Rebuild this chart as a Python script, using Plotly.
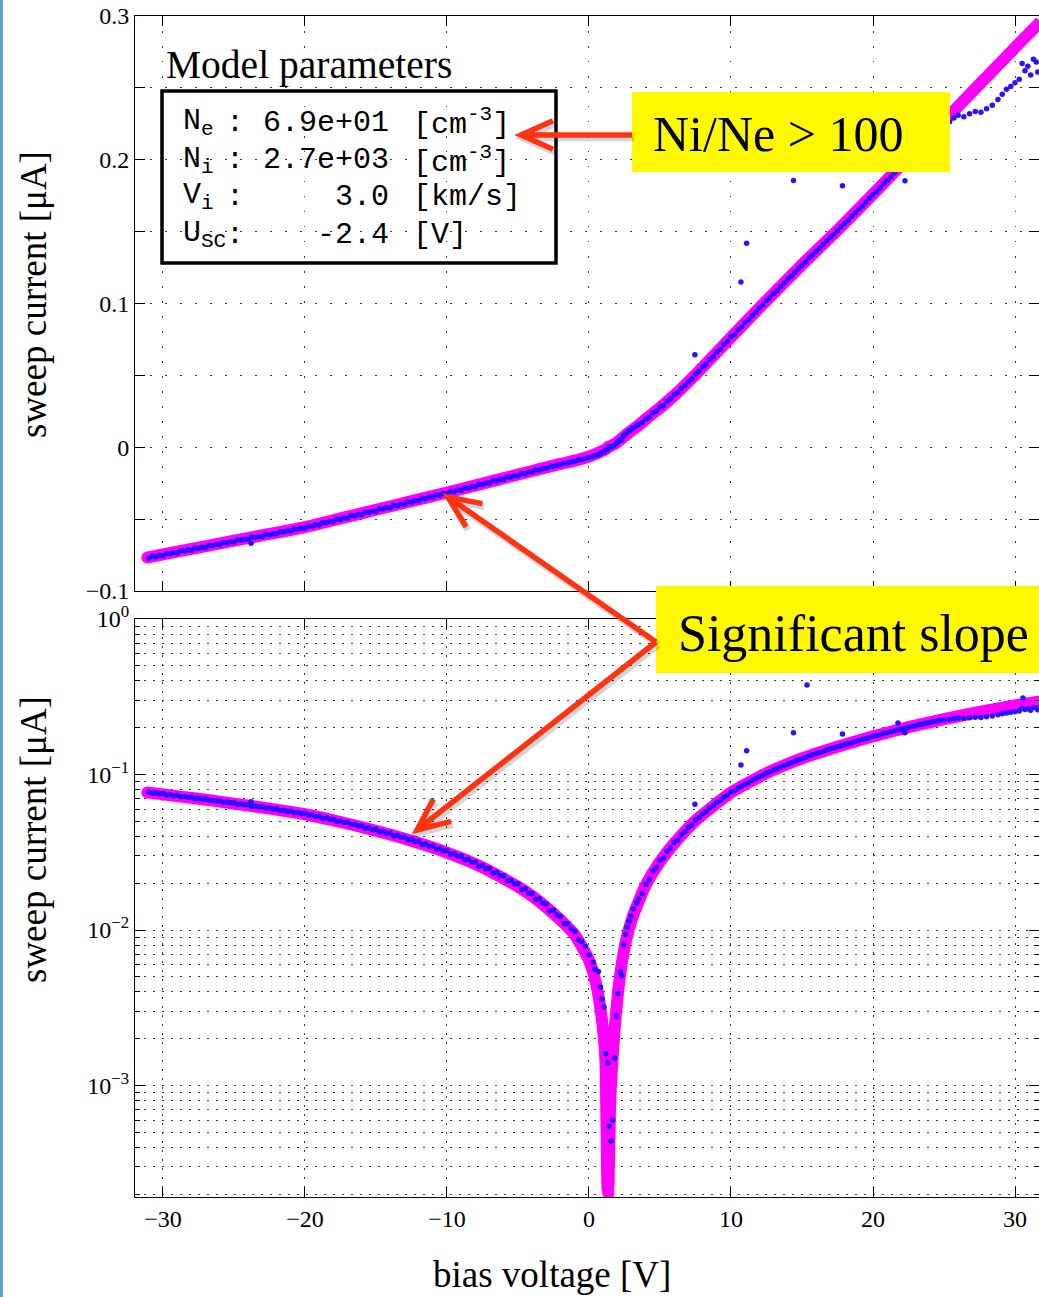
import math
import numpy as np
import plotly.graph_objects as go

# ---------------------------------------------------------------------------
# Fitted model of the probe sweep (bias voltage [V] -> current [uA])
# ---------------------------------------------------------------------------
V_MODEL = [-31.1, -30.0, -27.5, -25.0, -22.5, -20.0, -17.5, -15.0, -12.5, -10.0,
           -7.5, -5.0, -4.0, -3.0, -2.0, -1.0, 0.0, 0.5, 0.9, 1.15,
           1.3, 1.35, 1.5, 1.7, 1.9, 2.2, 2.6, 3.0, 3.5, 4.0,
           5.0, 6.0, 7.5, 10.0, 12.5, 15.0, 17.5, 20.0, 22.5, 25.0,
           27.5, 30.0, 31.8]
I_MODEL = [-0.0767, -0.0745, -0.0698, -0.0650, -0.0603, -0.0555, -0.0495, -0.0435, -0.0375, -0.0315,
           -0.0253, -0.0190, -0.0165, -0.0140, -0.0116, -0.0093, -0.0064, -0.0045, -0.0027, -0.0015,
           -0.00022, 0.00020, 0.0008, 0.0017, 0.0029, 0.0052, 0.0085, 0.0116, 0.0153, 0.0195,
           0.0275, 0.0360, 0.0505, 0.0765, 0.1020, 0.1270, 0.1510, 0.1760, 0.2015, 0.2270,
           0.2525, 0.2780, 0.2960]

# ---------------------------------------------------------------------------
# Measured sweep samples
# ---------------------------------------------------------------------------
# negative bias, first pass
V_NEG_A = [-31.0, -30.5, -30.0, -29.5, -29.0, -28.5, -28.0, -27.5, -27.0, -26.5,
           -26.0, -25.5, -25.0, -24.5, -24.0, -23.5, -23.0, -22.5, -22.0, -21.5,
           -21.0, -20.5, -20.0, -19.5, -19.0, -18.5, -18.0, -17.5, -17.0, -16.5,
           -16.0, -15.5, -15.0, -14.5, -14.0, -13.5, -13.0, -12.5, -12.0, -11.5,
           -11.0, -10.5, -10.0, -9.5, -9.0, -8.5, -8.0, -7.5, -7.0, -6.5,
           -6.0, -5.5, -5.0, -4.5, -4.0, -3.5, -3.0, -2.5, -2.0, -1.5,
           -1.0, -0.5, 0.0]
I_NEG_A = [-0.0772, -0.0764, -0.0754, -0.0741, -0.0735, -0.0722, -0.0716, -0.0704, -0.0697, -0.0684,
           -0.0678, -0.0665, -0.0659, -0.0645, -0.0640, -0.0628, -0.0621, -0.0608, -0.0602, -0.0589,
           -0.0583, -0.0570, -0.0564, -0.0549, -0.0540, -0.0525, -0.0516, -0.0502, -0.0493, -0.0478,
           -0.0469, -0.0454, -0.0445, -0.0430, -0.0421, -0.0407, -0.0396, -0.0383, -0.0372, -0.0358,
           -0.0348, -0.0334, -0.0324, -0.0310, -0.0299, -0.0285, -0.0274, -0.0260, -0.0249, -0.0235,
           -0.0223, -0.0209, -0.0198, -0.0184, -0.0172, -0.0159, -0.0147, -0.0134, -0.0122, -0.0110,
           -0.0098, -0.0084, -0.0069]

# negative bias, second pass
V_NEG_B = [-30.75, -30.25, -29.75, -29.25, -28.75, -28.25, -27.75, -27.25, -26.75, -26.25,
           -25.75, -25.25, -24.75, -24.25, -23.75, -23.25, -22.75, -22.25, -21.75, -21.25,
           -20.75, -20.25, -19.75, -19.25, -18.75, -18.25, -17.75, -17.25, -16.75, -16.25,
           -15.75, -15.25, -14.75, -14.25, -13.75, -13.25, -12.75, -12.25, -11.75, -11.25,
           -10.75, -10.25, -9.75, -9.25, -8.75, -8.25, -7.75, -7.25, -6.75, -6.25,
           -5.75, -5.25, -4.75, -4.25, -3.75, -3.25, -2.75, -2.25, -1.75, -1.25,
           -0.75, -0.25]
I_NEG_B = [-0.0757, -0.0751, -0.0739, -0.0733, -0.0719, -0.0713, -0.0700, -0.0695, -0.0682, -0.0676,
           -0.0663, -0.0657, -0.0644, -0.0639, -0.0625, -0.0620, -0.0606, -0.0601, -0.0587, -0.0581,
           -0.0568, -0.0561, -0.0547, -0.0539, -0.0523, -0.0515, -0.0499, -0.0491, -0.0475, -0.0467,
           -0.0451, -0.0443, -0.0427, -0.0419, -0.0403, -0.0395, -0.0379, -0.0371, -0.0355, -0.0346,
           -0.0331, -0.0322, -0.0307, -0.0298, -0.0282, -0.0273, -0.0257, -0.0248, -0.0232, -0.0223,
           -0.0207, -0.0198, -0.0182, -0.0173, -0.0157, -0.0149, -0.0133, -0.0125, -0.0110, -0.0102,
           -0.0087, -0.0078]

# samples around the zero crossing
V_KNEE = [0.30, 0.42, 0.66, 0.80, 0.92, 1.06, 1.18, 1.32, 1.41, 1.55,
          1.67, 1.81, 1.93, 2.04, 2.20, 2.30, 2.44, 2.56, 2.68, 2.82,
          2.96, 3.12, 3.36]
I_KNEE = [-0.0062, -0.0056, -0.0054, -0.0043, -0.0036, -0.0032, -0.0016, -0.0014, 0.00055, 0.00044,
          0.00060, 0.0015, 0.0028, 0.0039, 0.0054, 0.0051, 0.0081, 0.0094, 0.0104, 0.0114,
          0.0123, 0.0137, 0.0149]

# positive bias, first pass
V_POS_A = [3.5, 4.0, 4.5, 5.0, 5.5, 6.0, 6.5, 7.0, 7.5, 8.0,
           8.5, 9.0, 9.5, 10.0, 10.5, 11.0, 11.5, 12.0, 12.5, 13.0,
           13.5, 14.0, 14.5, 15.0, 15.5, 16.0, 16.5, 17.0, 17.5, 18.0,
           18.5, 19.0, 19.5, 20.0, 20.5, 21.0, 21.5, 22.0, 22.5, 23.0,
           23.5, 24.0, 24.5, 25.0]
I_POS_A = [0.0158, 0.0197, 0.0240, 0.0282, 0.0321, 0.0367, 0.0410, 0.0458, 0.0510, 0.0560,
           0.0612, 0.0662, 0.0716, 0.0768, 0.0818, 0.0870, 0.0917, 0.0968, 0.1021, 0.1070,
           0.1118, 0.1170, 0.1218, 0.1268, 0.1318, 0.1364, 0.1412, 0.1462, 0.1508, 0.1557,
           0.1608, 0.1655, 0.1706, 0.1757, 0.1806, 0.1858, 0.1908, 0.1960, 0.2012, 0.2060,
           0.2110, 0.2160, 0.2205, 0.2248]

# positive bias, second pass
V_POS_B = [3.75, 4.25, 4.75, 5.25, 5.75, 6.25, 6.75, 7.25, 7.75, 8.25,
           8.75, 9.25, 9.75, 10.25, 10.75, 11.25, 11.75, 12.25, 12.75, 13.25,
           13.75, 14.25, 14.75, 15.25, 15.75, 16.25, 16.75, 17.25, 17.75, 18.25,
           18.75, 19.25, 19.75, 20.25, 20.75, 21.25, 21.75, 22.25, 22.75, 23.25,
           23.75, 24.25, 24.75]
I_POS_B = [0.0172, 0.0211, 0.0253, 0.0291, 0.0337, 0.0379, 0.0429, 0.0474, 0.0528, 0.0577,
           0.0632, 0.0681, 0.0736, 0.0785, 0.0839, 0.0887, 0.0941, 0.0989, 0.1042, 0.1089,
           0.1142, 0.1189, 0.1242, 0.1288, 0.1339, 0.1384, 0.1435, 0.1480, 0.1532, 0.1579,
           0.1632, 0.1679, 0.1732, 0.1780, 0.1834, 0.1882, 0.1936, 0.1984, 0.2038, 0.2086,
           0.2140, 0.2188, 0.2240]

# high bias: samples saturating below the model
V_HIGH = [25.4, 25.7, 26.0, 26.4, 26.8, 27.2, 27.6, 28.0, 28.4, 28.8,
          29.1, 29.4, 29.7, 30.0, 30.3, 30.5, 30.7, 30.9, 31.1, 31.3,
          31.5, 31.6]
I_HIGH = [0.2265, 0.2290, 0.2310, 0.2300, 0.2320, 0.2335, 0.2330, 0.2355, 0.2380, 0.2420,
          0.2455, 0.2490, 0.2510, 0.2535, 0.2560, 0.2670, 0.2620, 0.2650, 0.2590, 0.2700,
          0.2680, 0.2610]

# isolated spikes
V_SPIKE = [-23.8, 7.46, 10.7, 11.1, 14.4, 15.35, 17.85, 21.76, 22.25, 30.56]
I_SPIKE = [-0.0668, 0.0644, 0.1150, 0.1420, 0.1855, 0.3760, 0.1820, 0.2140, 0.1854, 0.3100]

V_DATA = V_NEG_A + V_NEG_B + V_KNEE + V_POS_A + V_POS_B + V_HIGH + V_SPIKE
I_DATA = I_NEG_A + I_NEG_B + I_KNEE + I_POS_A + I_POS_B + I_HIGH + I_SPIKE

# ---------------------------------------------------------------------------
# Axis ticks
# ---------------------------------------------------------------------------
X_RANGE = [-31.97, 31.69]
X_TICKS = [-30, -20, -10, 0, 10, 20, 30]
X_TICK_TEXT = ["\u221230", "\u221220", "\u221210", "0", "10", "20", "30"]
LIN_RANGE = [-0.1, 0.3]
LIN_TICKS = [-0.1, 0.0, 0.1, 0.2, 0.3]
LIN_TICK_TEXT = ["\u22120.1", "0", "0.1", "0.2", "0.3"]
LIN_MINOR = [-0.05, 0.05, 0.15, 0.25]
LOG_RANGE = [-3.717, 0.0]
LOG_TICKS = [1e-3, 1e-2, 1e-1, 1.0]
LOG_TICK_TEXT = ["10<sup>\u22123</sup>", "10<sup>\u22122</sup>", "10<sup>\u22121</sup>", "10<sup>0</sup>"]
LOG_MINOR = [m * 10.0 ** e for e in (-4, -3, -2, -1) for m in range(2, 10)]

# Model parameter box
PARAM_NAMES = ["N<sub>e</sub>", "N<sub>i</sub>", "V<sub>i</sub>", "U<sub>SC</sub>"]
PARAM_VALUES = [6.9e1, 2.7e3, 3.0, -2.4]
PARAM_FORMATS = ["{:.1e}", "{:.1e}", "{:.1f}", "{:.1f}"]
PARAM_UNITS = ["[cm<sup>-3</sup>]", "[cm<sup>-3</sup>]", "[km/s]", "[V]"]

# ---------------------------------------------------------------------------
# Page geometry (pixels) and helpers to place overlays in paper coordinates
# ---------------------------------------------------------------------------
W, H = 1039, 1297
ML, MR, MT, MB = 135, 0, 16, 100
PW, PH = W - ML - MR, H - MT - MB
TOP_PANEL = (16, 591)      # y-pixel extent of the linear panel
BOT_PANEL = (619, 1197)    # y-pixel extent of the log panel


def fx(px):
    return (px - ML) / PW


def fy(py):
    return (H - MB - py) / PH


SERIF = "Liberation Serif, Times New Roman, serif"
MONO = "Liberation Mono, Courier New, monospace"
MAGENTA = "#FF00FF"
DOT_BLUE = "#2A12FF"
RED = "#FF3311"
YELLOW = "#FFF900"
GRID = "#3a3a3a"

fig = go.Figure()
model_line = dict(color=MAGENTA, width=12, shape="spline", smoothing=0.5)
dot_style = dict(color=DOT_BLUE, size=5.5)

# linear panel
fig.add_trace(go.Scatter(x=V_MODEL, y=I_MODEL, mode="lines", line=model_line,
                         xaxis="x", yaxis="y", hoverinfo="skip"))
fig.add_trace(go.Scatter(x=[V_MODEL[0]], y=[I_MODEL[0]], mode="markers",
                         marker=dict(color=MAGENTA, size=12),
                         xaxis="x", yaxis="y", hoverinfo="skip"))
fig.add_trace(go.Scatter(x=V_DATA, y=I_DATA, mode="markers", marker=dot_style,
                         xaxis="x", yaxis="y"))

# log panel shows the magnitude of the same sweep
abs_model = np.abs(np.array(I_MODEL))
abs_data = np.abs(np.array(I_DATA))
fig.add_trace(go.Scatter(x=V_MODEL, y=abs_model, mode="lines", line=model_line,
                         xaxis="x2", yaxis="y2", hoverinfo="skip"))
fig.add_trace(go.Scatter(x=[V_MODEL[0]], y=[abs_model[0]], mode="markers",
                         marker=dict(color=MAGENTA, size=12),
                         xaxis="x2", yaxis="y2", hoverinfo="skip"))
fig.add_trace(go.Scatter(x=V_DATA, y=abs_data, mode="markers", marker=dot_style,
                         xaxis="x2", yaxis="y2"))

tick_font = dict(family=SERIF, size=24, color="black")
common_axis = dict(showline=True, linecolor="black", linewidth=1,
                   ticks="inside", tickcolor="black", tickwidth=1, ticklen=10,
                   mirror="ticks", zeroline=False, showgrid=True,
                   gridcolor=GRID, gridwidth=1, tickfont=tick_font)

fig.update_layout(
    width=W, height=H,
    margin=dict(l=ML, r=MR, t=MT, b=MB, pad=0),
    paper_bgcolor="white", plot_bgcolor="white",
    showlegend=False,
    xaxis=dict(domain=[0, 1], anchor="y", range=X_RANGE,
               tickmode="array", tickvals=X_TICKS, showticklabels=False,
               griddash="1.5px,13.5px", **common_axis),
    yaxis=dict(domain=[fy(TOP_PANEL[1]), fy(TOP_PANEL[0])], anchor="x",
               range=LIN_RANGE, tickmode="array", tickvals=LIN_TICKS,
               ticktext=LIN_TICK_TEXT, griddash="1.5px,13.5px",
               minor=dict(tickmode="array", tickvals=LIN_MINOR, ticks="inside",
                          ticklen=10, tickcolor="black", showgrid=True,
                          gridcolor=GRID, griddash="1.5px,13.5px"),
               **common_axis),
    xaxis2=dict(domain=[0, 1], anchor="y2", range=X_RANGE,
                tickmode="array", tickvals=X_TICKS, ticktext=X_TICK_TEXT,
                griddash="1.5px,7.5px", **common_axis),
    yaxis2=dict(domain=[fy(BOT_PANEL[1]), fy(BOT_PANEL[0])], anchor="x2",
                type="log", range=LOG_RANGE, tickmode="array",
                tickvals=LOG_TICKS, ticktext=LOG_TICK_TEXT,
                griddash="1.5px,7.5px",
                minor=dict(tickmode="array", tickvals=LOG_MINOR, ticks="inside",
                           ticklen=5, tickcolor="black", showgrid=True,
                           gridcolor=GRID, griddash="1.5px,7.5px"),
                **common_axis),
)

annotations = []
shapes = []


def label(text, px, py, size, family=SERIF, xanchor="left", yanchor="middle", angle=0):
    annotations.append(dict(text=text, x=fx(px), y=fy(py), xref="paper", yref="paper",
                            xanchor=xanchor, yanchor=yanchor, showarrow=False,
                            textangle=angle,
                            font=dict(family=family, size=size, color="black")))


# axis titles
label("sweep current [\u03bcA]", 33, 295, 37, xanchor="center", angle=-90)
label("sweep current [\u03bcA]", 33, 840, 37, xanchor="center", angle=-90)
label("bias voltage [V]", 552, 1274, 37, xanchor="center")

# model parameter box
label("Model parameters", 164, 65, 39.5)
shapes.append(dict(type="rect", xref="paper", yref="paper",
                   x0=fx(162), x1=fx(556), y0=fy(263), y1=fy(91),
                   line=dict(color="black", width=3.5), layer="above"))
row_y = [123, 160, 197, 235]
for name, val, fmt, unit, ry in zip(PARAM_NAMES, PARAM_VALUES, PARAM_FORMATS, PARAM_UNITS, row_y):
    label(name, 181, ry, 30, family=MONO)
    label(":", 235, ry, 30, family=MONO, xanchor="center")
    label(fmt.format(val), 391, ry, 30, family=MONO, xanchor="right")
    label(unit, 411, ry, 30, family=MONO)

# yellow call-outs
shapes.append(dict(type="rect", xref="paper", yref="paper",
                   x0=fx(632), x1=fx(950), y0=fy(172), y1=fy(92),
                   fillcolor=YELLOW, line=dict(width=0), layer="above"))
shapes.append(dict(type="rect", xref="paper", yref="paper",
                   x0=fx(656), x1=fx(1060), y0=fy(673), y1=fy(586),
                   fillcolor=YELLOW, line=dict(width=0), layer="above"))
label("Ni/Ne &gt; 100", 651, 134, 50)
label("Significant slope", 676, 633, 52)


def arrow_strokes(tail, tip, arm=35.0, spread=24.0):
    """Shaft plus open chevron head as point lists, pixel coordinates."""
    dx, dy = tail[0] - tip[0], tail[1] - tip[1]
    ang = math.atan2(dy, dx)
    ends = []
    for s in (-1, 1):
        a = ang + s * math.radians(spread)
        ends.append((tip[0] + arm * math.cos(a), tip[1] + arm * math.sin(a)))
    return [[tail, tip], [ends[0], tip, ends[1]]]


ARROWS = [((632, 135), (521, 135)),
          ((656, 642), (448, 497)),
          ((656, 642), (417, 830))]
strokes = [s for tail, tip in ARROWS for s in arrow_strokes(tail, tip)]


def svg_path(polylines, off):
    parts = []
    for pts in polylines:
        parts.append("M " + " L ".join(
            f"{fx(p[0] + off[0]):.5f},{fy(p[1] + off[1]):.5f}" for p in pts))
    return " ".join(parts)


# soft drop shadow first, then the red arrows on top
shapes.append(dict(type="path", path=svg_path(strokes, (2, 3)), xref="paper", yref="paper",
                   line=dict(color="rgba(0,0,0,0.16)", width=7), layer="above"))
shapes.append(dict(type="path", path=svg_path(strokes, (0, 0)), xref="paper", yref="paper",
                   line=dict(color=RED, width=5.5), layer="above"))

# blue page edge on the left
shapes.append(dict(type="line", xref="paper", yref="paper",
                   x0=fx(1.5), x1=fx(1.5), y0=fy(0), y1=fy(H),
                   line=dict(color="#5BA5CB", width=3), layer="above"))

fig.update_layout(annotations=annotations, shapes=shapes)
fig.write_html("out.html")
